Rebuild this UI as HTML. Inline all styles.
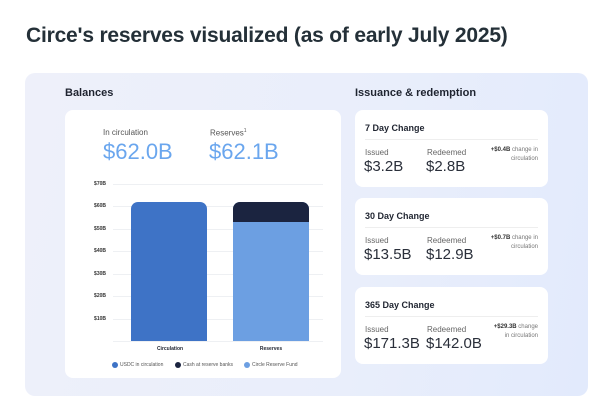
<!DOCTYPE html>
<html><head><meta charset="utf-8"><style>
*{margin:0;padding:0;box-sizing:border-box}
body{width:615px;height:410px;background:#fff;font-family:"Liberation Sans",sans-serif;position:relative;overflow:hidden;color:#1f2430}
.a{position:absolute;white-space:nowrap}
h1{position:absolute;left:26px;top:24px;font-size:21px;font-weight:bold;color:#243038;letter-spacing:-0.2px}
.panel{position:absolute;left:25px;top:73px;width:563px;height:323px;border-radius:10px;background:linear-gradient(100deg,#eef0fa 0%,#e9eefb 60%,#e2eafc 100%)}
.card{position:absolute;background:#fff;border-radius:8px}
.grid{position:absolute;left:113px;width:210px;height:1px;background:#eef0f3}
.yl{position:absolute;left:88px;width:18px;text-align:right;font-size:5px;font-weight:bold;color:#333}
.t{font-size:9px;font-weight:bold;color:#1f2430}
.lab{font-size:8px;color:#666}
.val{font-size:15px;color:#2a2f3a}
.ch{font-size:6px;color:#777;text-align:right;line-height:9px}
.ch b{color:#333}
.dot{position:absolute;width:6px;height:6px;border-radius:50%}
</style></head><body>
<h1>Circe's reserves visualized (as of early July 2025)</h1>
<div class="panel"></div>
<div class="a" style="left:65px;top:87px;font-size:11px;font-weight:bold">Balances</div>
<div class="a" style="left:355px;top:87px;font-size:11px;font-weight:bold">Issuance &amp; redemption</div>
<div class="card" style="left:65px;top:110px;width:276px;height:268px"></div>
<div class="a" style="left:103px;top:128px;font-size:8px;color:#555">In circulation</div>
<div class="a" style="left:210px;top:128px;font-size:8px;color:#555">Reserves<sup style="font-size:5px">1</sup></div>
<div class="a" style="left:103px;top:139px;font-size:22px;color:#6aa6ee">$62.0B</div>
<div class="a" style="left:209px;top:139px;font-size:22px;color:#6aa6ee">$62.1B</div>
<div class="grid" style="top:184px"></div><div class="grid" style="top:206px"></div><div class="grid" style="top:229px"></div><div class="grid" style="top:251px"></div><div class="grid" style="top:274px"></div><div class="grid" style="top:296px"></div><div class="grid" style="top:319px"></div><div class="grid" style="top:341px"></div>
<div class="yl" style="top:181px">$70B</div><div class="yl" style="top:203px">$60B</div><div class="yl" style="top:226px">$50B</div><div class="yl" style="top:248px">$40B</div><div class="yl" style="top:271px">$30B</div><div class="yl" style="top:293px">$20B</div><div class="yl" style="top:316px">$10B</div>
<div class="a" style="left:131px;top:202px;width:76px;height:139px;background:#3e73c6;border-radius:7px 7px 0 0"></div>
<div class="a" style="left:233px;top:202px;width:76px;height:139px;background:#6c9fe2;border-radius:7px 7px 0 0;overflow:hidden"><div style="height:20px;background:#1b2440"></div></div>
<div class="a" style="left:140px;top:346px;width:60px;text-align:center;font-size:5px;font-weight:bold">Circulation</div>
<div class="a" style="left:241px;top:346px;width:60px;text-align:center;font-size:5px;font-weight:bold">Reserves</div>
<div class="dot" style="left:112px;top:362px;background:#3e73c6"></div><div class="a" style="left:120px;top:362px;font-size:5px;color:#555">USDC in circulation</div>
<div class="dot" style="left:175px;top:362px;background:#1b2440"></div><div class="a" style="left:183px;top:362px;font-size:5px;color:#555">Cash at reserve banks</div>
<div class="dot" style="left:244px;top:362px;background:#6c9fe2"></div><div class="a" style="left:252px;top:362px;font-size:5px;color:#555">Circle Reserve Fund</div>

<div class="card" style="left:355px;top:110px;width:193px;height:77px"></div>
<div class="a t" style="left:365px;top:123px">7 Day Change</div>
<div class="a" style="left:365px;top:139px;width:173px;height:1px;background:#eee"></div>
<div class="a lab" style="left:365px;top:148px">Issued</div><div class="a lab" style="left:427px;top:148px">Redeemed</div>
<div class="a val" style="left:364px;top:158px">$3.2B</div><div class="a val" style="left:426px;top:158px">$2.8B</div>
<div class="a ch" style="left:478px;top:146px;width:60px"><b>+$0.4B</b> change in<br>circulation</div>

<div class="card" style="left:355px;top:198px;width:193px;height:77px"></div>
<div class="a t" style="left:365px;top:211px">30 Day Change</div>
<div class="a" style="left:365px;top:227px;width:173px;height:1px;background:#eee"></div>
<div class="a lab" style="left:365px;top:236px">Issued</div><div class="a lab" style="left:427px;top:236px">Redeemed</div>
<div class="a val" style="left:364px;top:246px">$13.5B</div><div class="a val" style="left:426px;top:246px">$12.9B</div>
<div class="a ch" style="left:478px;top:234px;width:60px"><b>+$0.7B</b> change in<br>circulation</div>

<div class="card" style="left:355px;top:287px;width:193px;height:77px"></div>
<div class="a t" style="left:365px;top:300px">365 Day Change</div>
<div class="a" style="left:365px;top:316px;width:173px;height:1px;background:#eee"></div>
<div class="a lab" style="left:365px;top:325px">Issued</div><div class="a lab" style="left:427px;top:325px">Redeemed</div>
<div class="a val" style="left:364px;top:335px">$171.3B</div><div class="a val" style="left:426px;top:335px">$142.0B</div>
<div class="a ch" style="left:478px;top:323px;width:60px"><b>+$29.3B</b> change<br>in circulation</div>
</body></html>
